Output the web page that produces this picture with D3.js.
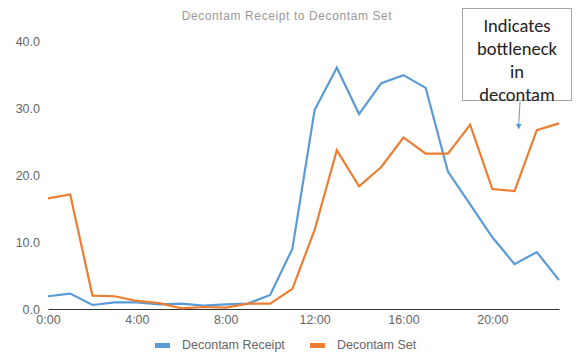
<!DOCTYPE html>
<html><head><meta charset="utf-8">
<script src="https://cdn.jsdelivr.net/npm/d3@7"></script>
<style>body{margin:0;background:#fff}svg{display:block}</style>
</head><body>
<svg id="c" width="576" height="354"></svg>
<script>
const hours = d3.range(24);
const receipt = [1.9,2.3,0.6,1.0,1.0,0.7,0.8,0.5,0.7,0.8,2.1,9.0,29.7,36.0,29.1,33.7,34.9,33.0,20.5,15.6,10.7,6.7,8.5,4.3];
const setVals = [16.5,17.1,2.0,1.9,1.2,0.9,0.1,0.3,0.2,0.8,0.8,3.0,11.8,23.7,18.3,21.2,25.6,23.2,23.2,27.5,17.9,17.6,26.7,27.7];
const yTicks = [0,10,20,30,40];
const xTicks = [0,4,8,12,16,20];
const seriesNames = ["Decontam Receipt","Decontam Set"];
const colors = ["#5b9bd5","#ed7d31"];
const title = "Decontam Receipt to Decontam Set";
const noteLines = ["Indicates","bottleneck","in","decontam"];
const F = "'Liberation Sans', Arial, sans-serif";

const svg = d3.select("#c");
const x = d3.scaleLinear().domain([0,23]).range([48,559]);
const y = d3.scaleLinear().domain([0,40]).range([309,41]);

svg.append("text").attr("x",287).attr("y",20).attr("text-anchor","middle")
  .attr("font-family",F).attr("font-size",12).attr("letter-spacing",0.6).attr("fill","#999").text(title);

const ya = svg.append("g").attr("transform","translate(40,0)")
  .call(d3.axisLeft(y).tickValues(yTicks).tickFormat(d3.format(".1f")).tickSize(0).tickPadding(0));
ya.select(".domain").remove();
ya.selectAll("text").attr("font-family",F).attr("font-size",12.5).attr("fill","#666");

const xa = svg.append("g").attr("transform","translate(0,309)")
  .call(d3.axisBottom(x).tickValues(xTicks).tickFormat(d=>d+":00").tickSize(0).tickPadding(6));
xa.select(".domain").attr("stroke","#333").attr("stroke-width",1.2);
xa.selectAll("text").attr("font-family",F).attr("font-size",12.5).attr("fill","#666");

const line = d3.line().x((d,i)=>x(hours[i])).y(d=>y(d));
[receipt,setVals].forEach((s,k)=>{
  svg.append("path").datum(s).attr("d",line).attr("fill","none")
    .attr("stroke",colors[k]).attr("stroke-width",2.2).attr("stroke-linejoin","miter");
});

const leg = [{x:155,tx:182},{x:310,tx:337}];
seriesNames.forEach((n,k)=>{
  svg.append("rect").attr("x",leg[k].x).attr("y",343).attr("width",15).attr("height",5).attr("fill",colors[k]);
  svg.append("text").attr("x",leg[k].tx).attr("y",349).attr("font-family",F)
    .attr("font-size",12.5).attr("fill","#666").text(n);
});

svg.append("rect").attr("x",462.5).attr("y",8.5).attr("width",109).attr("height",92)
  .attr("fill","#fff").attr("stroke","#a6a6a6").attr("stroke-width",1);
noteLines.forEach((t,i)=>{
  svg.append("text").attr("x",517).attr("y",32+i*23).attr("text-anchor","middle")
    .attr("font-family","Carlito, 'Open Sans', 'Liberation Sans', sans-serif").attr("font-size",18.5).attr("fill","#222").text(t);
});
svg.append("defs").append("marker").attr("id","ah").attr("viewBox","0 0 10 10").attr("refX",9).attr("refY",5)
  .attr("markerWidth",6).attr("markerHeight",6).attr("orient","auto")
  .append("path").attr("d","M0,0L10,5L0,10z").attr("fill","#5b9bd5");
svg.append("line").attr("x1",520).attr("y1",102).attr("x2",518.5).attr("y2",129)
  .attr("stroke","#5b9bd5").attr("stroke-width",1).attr("marker-end","url(#ah)");
</script>
</body></html>
